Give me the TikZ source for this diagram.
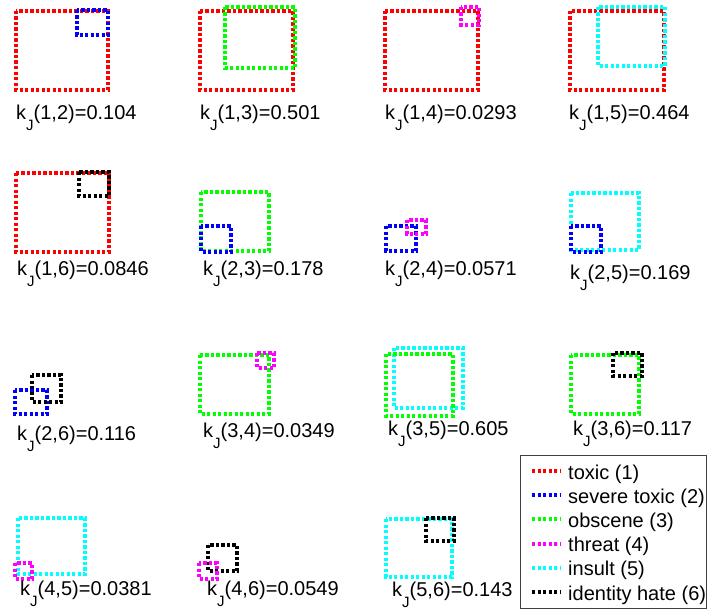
\documentclass[tikz,border=0pt]{standalone}
\usepackage{fontspec}
\setmainfont{Liberation Sans}
\newcommand\kjlab[2]{k\raisebox{-11pt}{\fontsize{15}{15}\selectfont J}(#1)=#2}
\definecolor{cRed}{RGB}{255,0,0}
\definecolor{cBlue}{RGB}{0,0,255}
\definecolor{cGreen}{RGB}{0,255,0}
\definecolor{cMag}{RGB}{255,0,255}
\definecolor{cCyan}{RGB}{0,255,255}
\definecolor{cBlack}{RGB}{0,0,0}
\begin{document}
\begin{tikzpicture}[x=1pt,y=-1pt,
  dotbox/.style={line width=4pt, dash pattern=on 3.3pt off 2.2pt, line join=miter},
  lab/.style={anchor=base west, inner sep=0pt, font=\fontsize{20}{24}\selectfont},
  leg/.style={anchor=base west, inner sep=0pt, font=\fontsize{20}{24}\selectfont}]
\useasboundingbox (0,0) rectangle (708,610);
% row 1
\draw[dotbox,cRed] (16,11) rectangle (108,90);
\draw[dotbox,cBlue] (77,10) rectangle (108,35);
\node[lab] (l12) at (16,119.5) {\kjlab{1,2}{0.104}};
\draw[dotbox,cRed] (200,11) rectangle (293,90);
\draw[dotbox,cGreen] (225,7) rectangle (295,68);
\node[lab] (l13) at (200,119.5) {\kjlab{1,3}{0.501}};
\draw[dotbox,cRed] (385,11) rectangle (478,90);
\draw[dotbox,cMag] (461,7) rectangle (479,25);
\node[lab] (l14) at (385,119.5) {\kjlab{1,4}{0.0293}};
\draw[dotbox,cRed] (570,11) rectangle (664,90);
\draw[dotbox,cCyan] (598,7) rectangle (665,66);
\node[lab] (l15) at (569,119.5) {\kjlab{1,5}{0.464}};
% row 2
\draw[dotbox,cRed] (16,173) rectangle (109,252);
\draw[dotbox,cBlack] (79,172) rectangle (109,196);
\node[lab] (l16) at (17,275) {\kjlab{1,6}{0.0846}};
\draw[dotbox,cGreen] (201,192) rectangle (269,251);
\draw[dotbox,cBlue] (201,226) rectangle (231,252);
\node[lab] (l23) at (203,275) {\kjlab{2,3}{0.178}};
\draw[dotbox,cBlue] (386,226) rectangle (416,251);
\draw[dotbox,cMag] (407,220) rectangle (426,234);
\node[lab] (l24) at (385,275) {\kjlab{2,4}{0.0571}};
\draw[dotbox,cCyan] (571,193) rectangle (639,250);
\draw[dotbox,cBlue] (571,226) rectangle (601,252);
\node[lab] (l25) at (570,279) {\kjlab{2,5}{0.169}};
% row 3
\draw[dotbox,cBlue] (15,390) rectangle (47,414);
\draw[dotbox,cBlack] (32,375) rectangle (61,402);
\node[lab] (l26) at (17,440) {\kjlab{2,6}{0.116}};
\draw[dotbox,cGreen] (200,355) rectangle (269,414);
\draw[dotbox,cMag] (257,353) rectangle (274,368);
\node[lab] (l34) at (203,437) {\kjlab{3,4}{0.0349}};
\draw[dotbox,cCyan] (394,348) rectangle (463,408);
\draw[dotbox,cGreen] (386,354) rectangle (453,416);
\node[lab] (l35) at (388,435) {\kjlab{3,5}{0.605}};
\draw[dotbox,cGreen] (571,355) rectangle (639,414);
\draw[dotbox,cBlack] (613,353) rectangle (642,376);
\node[lab] (l36) at (573,435) {\kjlab{3,6}{0.117}};
% row 4
\draw[dotbox,cCyan] (18,518) rectangle (85,574);
\draw[dotbox,cMag] (15,563) rectangle (32,579);
\node[lab] (l45) at (20,595) {\kjlab{4,5}{0.0381}};
\draw[dotbox,cBlack] (208,545) rectangle (237,571);
\draw[dotbox,cMag] (199,563) rectangle (217,579);
\node[lab] (l46) at (207,595) {\kjlab{4,6}{0.0549}};
\draw[dotbox,cCyan] (386,519) rectangle (452,577);
\draw[dotbox,cBlack] (426,518) rectangle (454,541);
\node[lab] (l56) at (392,596) {\kjlab{5,6}{0.143}};
% legend
\draw[line width=0.8pt, black!75] (520,455) rectangle (706.5,608);
\foreach \c/\t [count=\n from 0] in {cRed/toxic (1), cBlue/severe toxic (2), cGreen/obscene (3), cMag/threat (4), cCyan/insult (5), cBlack/identity hate (6)} {
  \coordinate (s\n a) at (532,471+24.2*\n);
  \coordinate (s\n b) at (560,471+24.2*\n);
  \draw[dotbox,\c] (s\n a) -- (s\n b);
  \node[leg] (t\n) at (568,479+24.2*\n) {\t};
}
\end{tikzpicture}
\end{document}
